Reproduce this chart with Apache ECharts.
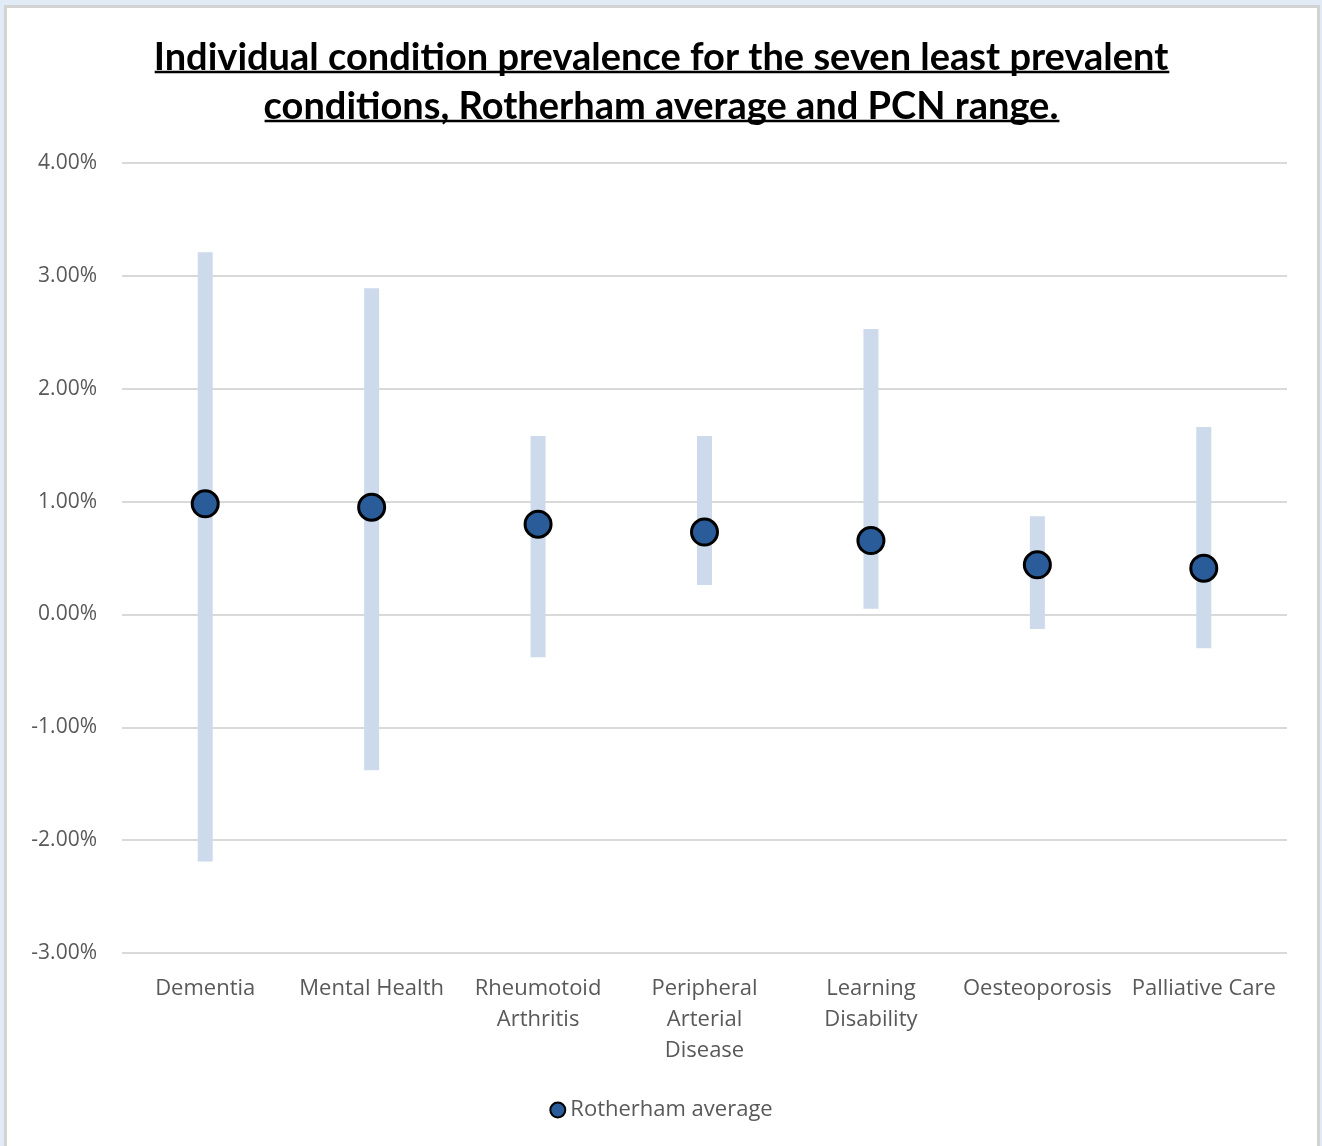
<!DOCTYPE html>
<html style="height: 100%">
<head>
    <meta charset="utf-8">
</head>
<body style="height: 100%; margin: 0; background: #e1ebf6">
    <div style="position: absolute; left: 4px; top: 5px; width: 1310px; height: 1160px; border: 3px solid #d3d3d3; background: #fff"></div>
    <div id="container" style="position: absolute; left: 0; top: 0; width: 1322px; height: 1146px"></div>
    <script src="https://cdn.jsdelivr.net/npm/echarts@6/dist/echarts.min.js"></script>
    <script type="text/javascript">
        var categories = ['Dementia', 'Mental Health', 'Rheumotoid\nArthritis', 'Peripheral\nArterial\nDisease', 'Learning\nDisability', 'Oesteoporosis', 'Palliative Care'];
        var average = [0.98, 0.95, 0.80, 0.73, 0.655, 0.44, 0.41];
        var rangeLow = [-2.19, -1.38, -0.38, 0.26, 0.05, -0.13, -0.30];
        var rangeHigh = [3.21, 2.89, 1.58, 1.58, 2.53, 0.87, 1.66];

        var titleLines = ['Individual condition prevalence for the seven least prevalent', 'conditions, Rotherham average and PCN range.'];
        var titleFont = 'bold 38px Lato';

        var dom = document.getElementById('container');
        var myChart = echarts.init(dom);

        // measure title lines so the underline fits
        var ctx = document.createElement('canvas').getContext('2d');
        ctx.font = titleFont;
        var underlines = titleLines.map(function (t, i) {
            var w = ctx.measureText(t).width;
            return {
                type: 'line',
                shape: { x1: 662 - w / 2, y1: 72 + i * 49, x2: 662 + w / 2, y2: 72 + i * 49 },
                style: { stroke: '#000', lineWidth: 2.5 }
            };
        });

        var ranges = rangeLow.map(function (v, i) { return [i, v, rangeHigh[i]]; });

        var option = {
            backgroundColor: 'transparent',
            textStyle: { fontFamily: 'Open Sans' },
            title: {
                text: titleLines.join('\n'),
                left: 'center',
                top: 28,
                textStyle: { fontFamily: 'Lato', fontSize: 38, fontWeight: 'bold', color: '#000', lineHeight: 49 }
            },
            graphic: underlines,
            legend: {
                bottom: 20,
                left: 'center',
                data: ['Rotherham average'],
                itemWidth: 15,
                itemHeight: 15,
                itemGap: 4,
                textStyle: { fontSize: 22, color: '#595959', fontFamily: 'Open Sans' }
            },
            grid: { left: 122, right: 35, top: 163, bottom: 193 },
            xAxis: {
                type: 'category',
                data: categories,
                axisLine: { show: false },
                axisTick: { show: false },
                axisLabel: { fontSize: 22, color: '#595959', margin: 20, lineHeight: 31, interval: 0, fontFamily: 'Open Sans' }
            },
            yAxis: {
                type: 'value',
                min: -3,
                max: 4,
                interval: 1,
                axisLine: { show: false },
                axisTick: { show: false },
                splitLine: { lineStyle: { color: '#d9d9d9', width: 2 } },
                axisLabel: {
                    fontSize: 21, color: '#595959', margin: 25, fontFamily: 'Open Sans',
                    formatter: function (v) { return v.toFixed(2) + '%'; }
                }
            },
            series: [{
                name: 'PCN range',
                type: 'custom',
                data: ranges,
                z: 1,
                renderItem: function (params, api) {
                    var p1 = api.coord([api.value(0), api.value(2)]);
                    var p2 = api.coord([api.value(0), api.value(1)]);
                    return {
                        type: 'rect',
                        shape: { x: p1[0] - 7.5, y: p1[1], width: 15, height: p2[1] - p1[1] },
                        style: { fill: '#cddaeb' }
                    };
                }
            }, {
                name: 'Rotherham average',
                type: 'scatter',
                data: average,
                z: 3,
                symbol: 'circle',
                symbolSize: 26,
                itemStyle: { color: '#295c98', borderColor: '#000', borderWidth: 3, opacity: 1 }
            }]
        };
        myChart.setOption(option);
    </script>
</body>
</html>
